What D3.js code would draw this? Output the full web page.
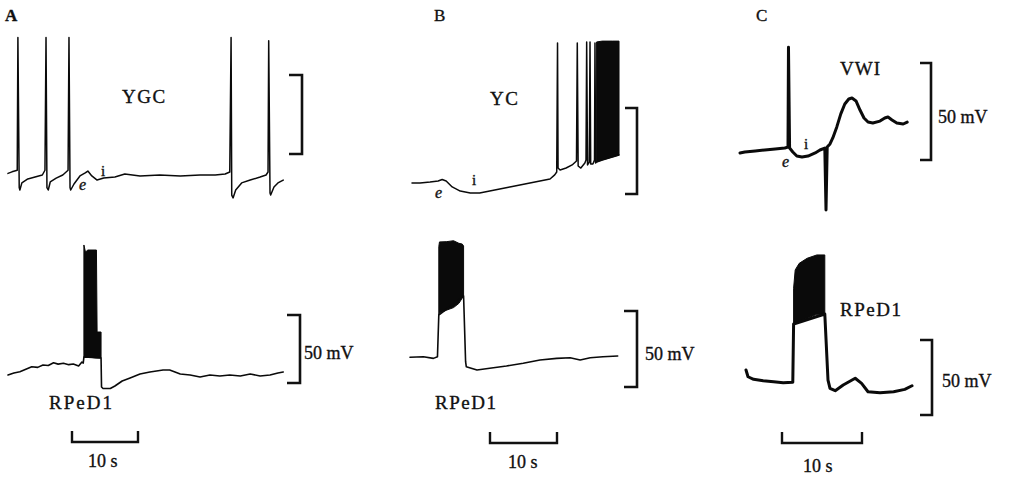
<!DOCTYPE html>
<html>
<head>
<meta charset="utf-8">
<script src="https://cdn.jsdelivr.net/npm/d3@7/dist/d3.min.js"></script>
<style>
  html, body { margin: 0; padding: 0; background: #fff; }
  svg { display: block; }
  text { font-family: "Liberation Serif", "Times New Roman", serif; fill: #111; stroke: #111; stroke-width: 0.35px; }
</style>
</head>
<body>
<div id="chart"></div>
<script>
// Intracellular recordings, 3 panels (A, B, C), each with an upper interneuron
// trace and a lower RPeD1 trace. Values: [time (s), membrane potential (mV, relative to rest)]
// Bursts are drawn as a filled envelope: [time (s), top (mV), bottom (mV)]

// ── Panel A ────────────────────────────────────────────────────────────────
const ygcTrace = [
  [0,1],[0.6,2],[1.4,3],[1.5,87],[1.7,-8],[1.8,-9.5],[2.1,-5],[3.0,-2.5],[4.1,-1.3],
  [5.2,0],[5.6,3],[5.76,87],[5.9,-8],[6.1,-9.5],[6.4,-4.4],[7.3,-2],[8.3,0],[9.1,3],
  [9.24,87],[9.4,-8],[9.5,-9.5],[10.0,-5.7],[10.9,-0.6],[11.7,1.3],[12.1,2.5],[12.7,-0.6],
  [13.5,-3.2],[14.5,-1.9],[16.2,-1.3],[17.7,0.6],[20.0,-0.6],[23.0,0],[26.1,-0.6],
  [29.1,0],[31.4,0],[32.9,0.6],[33.6,1.9],[33.8,87],[33.9,-12.7],[34.1,-14.5],[34.5,-9.5],
  [35.4,-5],[36.7,-3.2],[38.2,-1.3],[39.1,0],[39.4,1.9],[39.5,85],[39.7,-11.4],[39.8,-12.7],
  [40.3,-7.6],[40.9,-5],[41.7,-3.2]
];
const rped1ATrace = [
  [0,0],[0.9,1.5],[1.8,2.4],[2.7,4.2],[3.6,6.1],[4.5,5.6],[5.3,7.4],[6.1,7.0],[6.9,9.0],
  [7.6,8.0],[8.4,8.6],[9.2,7.6],[9.9,8.1],[10.7,6.6],[11.2,9.5],[11.4,8.8],[11.5,13.2],
  [14.1,12.5],[14.17,-8.8],[14.4,-9.9],[15.5,-9.9],[16.2,-8.1],[17.3,-4.4],[18.5,-2.2],
  [20.0,0.7],[21.5,2.2],[23.5,3.7],[24.5,3.7],[26.1,0.7],[27.6,0],[29.1,-1.5],[30.6,0],
  [32.1,-0.7],[33.6,0],[35.2,-0.7],[36.7,0.7],[38.2,-0.7],[39.7,0],[40.9,1.5],[41.7,2.2]
];
const rped1ABurst = [
  [11.5,95.6,13.2],[11.74,90.4,13.2],[12.1,91.9,13.2],[13.4,91.9,12.5],
  [13.5,31.6,12.5],[14.1,31.6,12.5]
];

// ── Panel B ────────────────────────────────────────────────────────────────
const ycTrace = [
  [0,0],[1.2,0],[2.7,0.6],[3.9,1.2],[4.5,2],[5.1,1.2],[6.0,-2.3],[7.2,-4.7],[8.7,-5.8],
  [10.1,-5.8],[11.6,-4.7],[13.1,-3.5],[14.6,-2.3],[16.1,-1.2],[17.6,0],[19.1,1.2],
  [20.6,2.3],[21.3,4.7],[21.6,6.4],[21.72,81.4],[21.8,8.7],[22.1,7.6],[23.0,8.7],
  [23.9,10.5],[24.55,12.8],[24.67,81.4],[24.8,9.9],[25.2,8.7],[25.8,11.6],[25.97,13.4],
  [26.07,82],[26.2,10.5],[26.46,12.2],[26.57,82],[26.67,11.0],[27.0,11.0],[27.24,13.4],
  [27.31,81.4],[27.4,11.6],[27.55,12.2],[28.4,13.4],[29.9,15.1],[30.9,16.3]
];
const ycBurst = [
  [27.55,82,12.2],[28.4,82.5,13.4],[29.9,82.5,15.1],[30.9,82.5,16.3]
];
const rped1BTrace = [
  [-0.3,-0.2],[1.7,0.2],[3.2,-0.9],[3.8,0.2],[4.0,27.6],[7.7,40.1],[8.0,-3.1],[8.1,-6.4],
  [9.7,-8.6],[11.6,-7.4],[14.1,-5.9],[16.6,-4.1],[19.1,-2.0],[21.6,-0.9],[23.6,-0.5],
  [25.1,-2.0],[26.6,-0.5],[28.5,0.2],[30.7,0.7]
];
const rped1BBurst = [
  [4.0,72.6,27.6],[4.1,75.7,28.9],[5.2,75.9,30.9],[6.2,76.5,32.5],[7.0,74.8,35.3],
  [7.5,74.3,38.8],[7.7,73,40.1]
];

// ── Panel C ────────────────────────────────────────────────────────────────
const vwiTrace = [
  [0,-1.5],[0.6,-1.0],[1.9,-0.5],[3.1,0],[4.4,0.5],[5.6,1.0],[6.0,1.5],[6.06,53],
  [6.2,1.0],[6.6,-1.0],[7.1,-3.1],[7.75,-3.6],[8.5,-3.1],[9.4,-1.5],[10.0,0],[10.6,1.0],
  [10.75,-30.9],[10.9,1.5],[11.25,3.1],[11.6,6.2],[12.1,11.9],[12.6,18.6],[13.1,23.7],
  [13.6,26.3],[14.0,26.8],[14.5,25.3],[15.0,20.6],[15.5,16.5],[16.0,14.4],[16.6,13.9],
  [17.5,14.9],[18.1,16.5],[18.5,17.0],[19.0,15.5],[19.6,13.9],[20.4,13.4],[20.9,14.4]
];
const rped1CTrace = [
  [0.75,10],[1.0,5.5],[1.7,3.8],[2.9,2.9],[4.2,2.2],[5.4,1.5],[6.6,1.8],[6.7,40.7],
  [10.6,47.3],[11.0,3.3],[11.25,-2.2],[11.9,-3.8],[12.9,0],[14.4,4.5],[15.2,1.1],
  [16.0,-4.5],[17.5,-5.1],[19.2,-4.5],[20.6,-2.9],[21.5,-0.5]
];
const rped1CBurst = [
  [6.7,64.5,40.7],[6.9,76.7,41.1],[7.4,81.1,42.2],[8.4,84.5,44.5],[9.6,86.7,47.1],
  [10.6,86.7,47.3]
];

// Scale bar values
const timeBarSec = 10;
const voltBarMv  = 50;

const width = 1009, height = 479;

const svg = d3.select("#chart")
  .append("svg")
  .attr("width", width)
  .attr("height", height);

// time axis: x0 = pixel of t=0, px10 = pixels per 10 s
function timeScale(x0, px10) {
  return d3.scaleLinear().domain([0, timeBarSec]).range([x0, x0 + px10]);
}
// voltage axis: base = pixel of 0 mV, px50 = pixels per 50 mV
function voltScale(base, px50) {
  return d3.scaleLinear().domain([0, voltBarMv]).range([base, base - px50]);
}

function drawTrace(x, y, trace, burst, sw) {
  if (burst) {
    svg.append("path")
      .datum(burst)
      .attr("d", d3.area()
        .x(d => x(d[0]))
        .y0(d => y(d[2]))
        .y1(d => y(d[1])))
      .attr("fill", "#0a0a0a")
      .attr("stroke", "#0a0a0a")
      .attr("stroke-width", 1);
  }
  svg.append("path")
    .datum(trace)
    .attr("d", d3.line().x(d => x(d[0])).y(d => y(d[1])))
    .attr("fill", "none")
    .attr("stroke", "#0a0a0a")
    .attr("stroke-width", sw)
    .attr("stroke-linejoin", "round")
    .attr("stroke-linecap", "round");
}

// vertical 50 mV bracket, opening to the left
function voltBar(y, xRight, yBottom, tick) {
  const len = y(0) - y(voltBarMv);
  svg.append("path")
    .attr("d", `M${xRight - tick},${yBottom - len} H${xRight} V${yBottom} H${xRight - tick}`)
    .attr("fill", "none")
    .attr("stroke", "#111")
    .attr("stroke-width", 2.6);
}

// horizontal 10 s bracket, opening upward
function timeBar(x, xLeft, yLine) {
  const len = x(timeBarSec) - x(0);
  svg.append("path")
    .attr("d", `M${xLeft},${yLine - 11} V${yLine} H${xLeft + len} V${yLine - 11}`)
    .attr("fill", "none")
    .attr("stroke", "#111")
    .attr("stroke-width", 2.4);
}

function label(txt, x, y, size, opts = {}) {
  svg.append("text")
    .attr("x", x).attr("y", y)
    .style("font-size", size + "px")
    .style("font-style", opts.italic ? "italic" : "normal")
    .style("font-weight", opts.bold ? "bold" : "normal")
    .style("letter-spacing", (opts.ls || 0) + "px")
    .text(txt);
}

// ── Panel A ──
const xA = timeScale(8, 66);
const yA1 = voltScale(175, 79);
const yA2 = voltScale(375, 68);
drawTrace(xA, yA1, ygcTrace, null, 1.5);
drawTrace(xA, yA2, rped1ATrace, rped1ABurst, 1.6);
voltBar(yA1, 302, 154, 13);
voltBar(yA2, 300, 383, 13);
timeBar(xA, 72, 442);
label("A", 5, 21, 17, { bold: true });
label("YGC", 122, 103, 19, { ls: 1.5 });
label("e", 79, 190, 16, { italic: true });
label("i", 101, 176, 15);
label("RPeD1", 49, 409, 19, { ls: 2 });
label("50 mV", 304, 359, 18);
label("10 s", 88, 467, 18);

// ── Panel B ──
const xB = timeScale(412, 67);
const yB1 = voltScale(183, 86);
const yB2 = voltScale(357, 76);
drawTrace(xB, yB1, ycTrace, ycBurst, 1.5);
drawTrace(xB, yB2, rped1BTrace, rped1BBurst, 1.6);
voltBar(yB1, 637, 194, 12);
voltBar(yB2, 637, 387, 13);
timeBar(xB, 490, 443);
label("B", 434, 21, 17);
label("YC", 490, 105, 19, { ls: 1.5 });
label("e", 435, 198, 16, { italic: true });
label("i", 472, 185, 15);
label("RPeD1", 435, 409, 19, { ls: 1.5 });
label("50 mV", 645, 360, 18);
label("10 s", 508, 468, 18);

// ── Panel C ──
const xC = timeScale(740, 80);
const yC1 = voltScale(150, 97);
const yC2 = voltScale(385, 75);
drawTrace(xC, yC1, vwiTrace, null, 3);
drawTrace(xC, yC2, rped1CTrace, rped1CBurst, 3);
voltBar(yC1, 931, 160, 11);
voltBar(yC2, 932, 415, 12);
timeBar(xC, 782, 443);
label("C", 756, 21, 17);
label("VWI", 840, 75, 19, { ls: 1 });
label("e", 782, 167, 16, { italic: true });
label("i", 804, 149, 15);
label("RPeD1", 840, 316, 19, { ls: 1.5 });
label("50 mV", 938, 123, 18);
label("50 mV", 942, 387, 18);
label("10 s", 803, 472, 18);
</script>
</body>
</html>
